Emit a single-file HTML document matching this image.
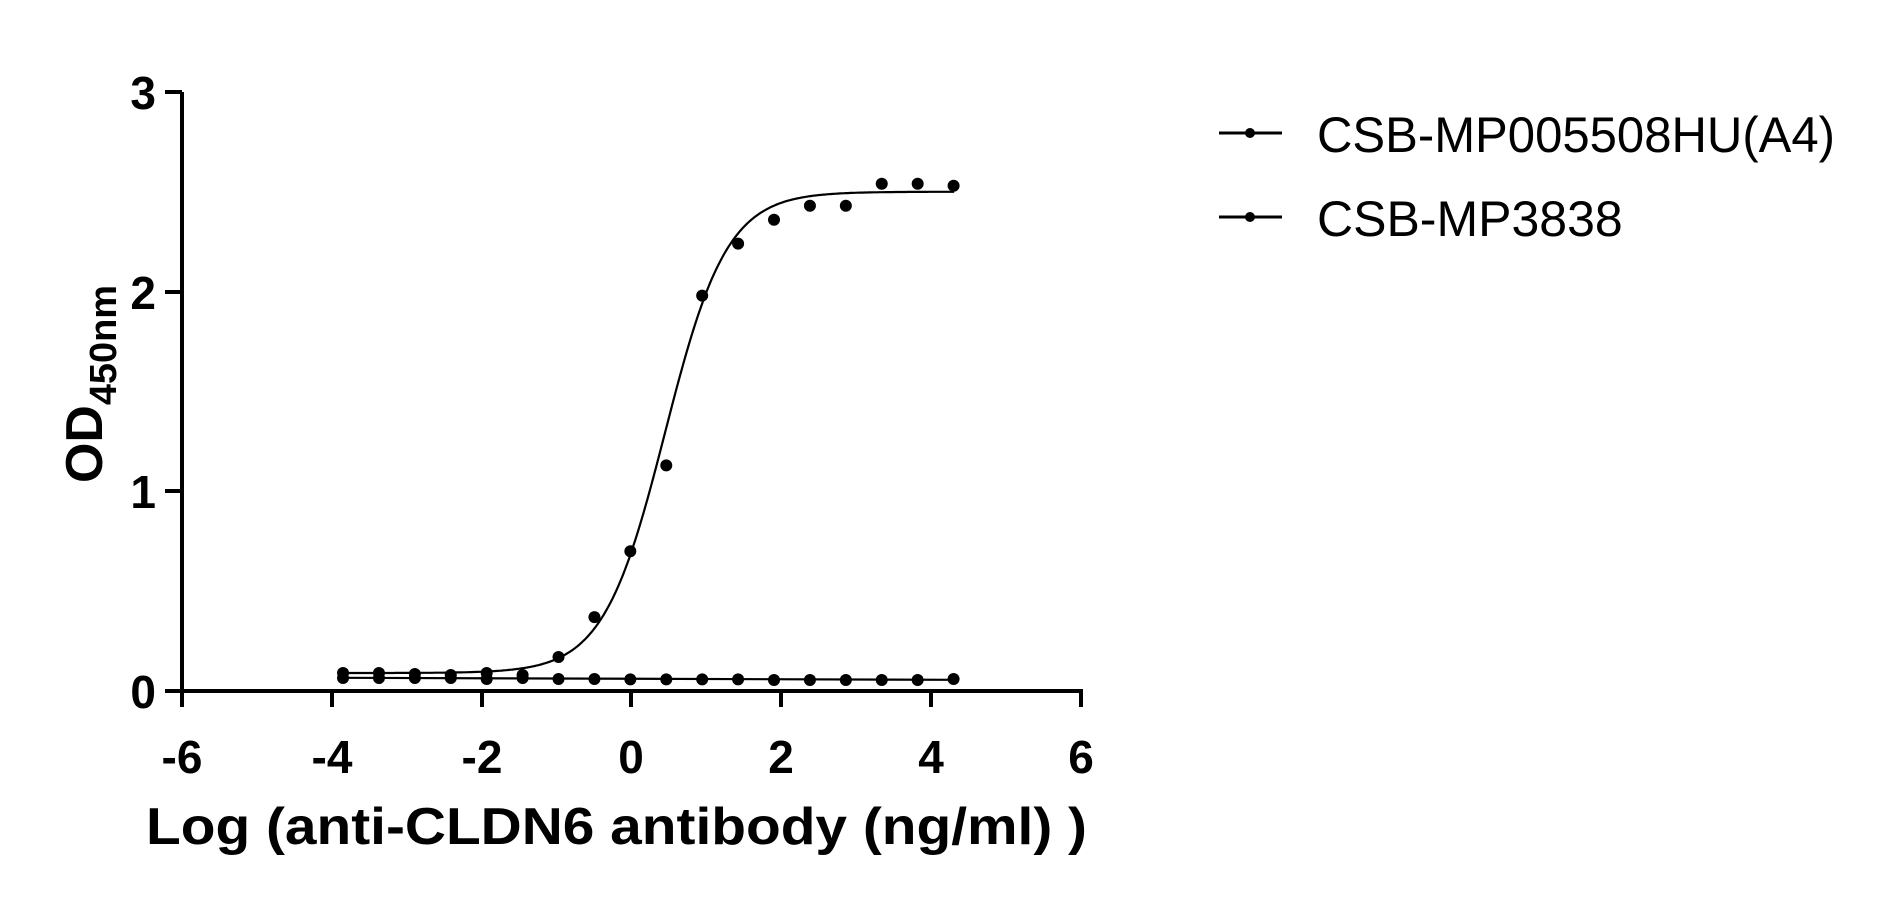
<!DOCTYPE html>
<html><head><meta charset="utf-8"><style>
html,body{margin:0;padding:0;background:#fff;}
svg{display:block;}
text{font-family:"Liberation Sans",sans-serif;fill:#000;}
</style></head><body>
<svg id="s" width="1878" height="899" viewBox="0 0 1878 899" xmlns="http://www.w3.org/2000/svg">
<g stroke="#000" stroke-width="4" fill="none">
<line x1="182" y1="92" x2="182" y2="693"/>
<line x1="180" y1="691" x2="1083" y2="691"/>
<line x1="165" y1="92" x2="182" y2="92"/>
<line x1="165" y1="292" x2="182" y2="292"/>
<line x1="165" y1="491" x2="182" y2="491"/>
<line x1="165" y1="691" x2="182" y2="691"/>
<line x1="182" y1="691" x2="182" y2="707"/>
<line x1="332" y1="691" x2="332" y2="707"/>
<line x1="482" y1="691" x2="482" y2="707"/>
<line x1="631" y1="691" x2="631" y2="707"/>
<line x1="781" y1="691" x2="781" y2="707"/>
<line x1="931" y1="691" x2="931" y2="707"/>
<line x1="1081" y1="691" x2="1081" y2="707"/>
</g>
<g font-weight="bold" font-size="46" text-anchor="end">
<text x="156" y="109">3</text>
<text x="156" y="309">2</text>
<text x="156" y="508">1</text>
<text x="156" y="708">0</text>
</g>
<g font-weight="bold" font-size="46" text-anchor="middle">
<text x="182" y="773">-6</text>
<text x="332" y="773">-4</text>
<text x="482" y="773">-2</text>
<text x="631" y="773">0</text>
<text x="781" y="773">2</text>
<text x="931" y="773">4</text>
<text x="1081" y="773">6</text>
</g>
<text x="146" y="844" font-weight="bold" font-size="52" textLength="941" lengthAdjust="spacingAndGlyphs">Log  (anti-CLDN6 antibody  (ng/ml)  )</text>
<text transform="translate(102,384) rotate(-90)" text-anchor="middle" font-weight="bold" font-size="52" textLength="198" lengthAdjust="spacingAndGlyphs">OD<tspan font-size="38" dy="14">450nm</tspan></text>
<g stroke="#000" stroke-width="3"><line x1="1219" y1="133" x2="1282" y2="133"/><line x1="1219" y1="217" x2="1282" y2="217"/></g>
<circle cx="1250" cy="133" r="5"/><circle cx="1250" cy="217" r="5"/>
<text x="1317" y="152" font-size="50" textLength="518" lengthAdjust="spacingAndGlyphs">CSB-MP005508HU(A4)</text>
<text x="1317" y="236" font-size="50">CSB-MP3838</text>
<g id="d"></g>
</svg>
<script>
var X=function(v){return 182+(v+6)*74.9},Y=function(v){return 691-v*199.7};
var s1=[0.09,0.09,0.085,0.08,0.09,0.08,0.17,0.37,0.7,1.13,1.98,2.24,2.36,2.43,2.43,2.54,2.54,2.53];
var s2=[0.065,0.065,0.065,0.065,0.06,0.065,0.06,0.06,0.058,0.058,0.058,0.058,0.055,0.055,0.055,0.055,0.055,0.06];
var g=document.getElementById('d'),h='';
function f(x){return 0.09+2.41/(1+Math.pow(10,(0.45-x)*1.05));}
var p='';for(var x=-3.85;x<=4.31;x+=0.02){p+=(p?'L':'M')+X(x).toFixed(1)+' '+Y(f(x)).toFixed(1);}
h+='<path d="'+p+'" stroke="#000" stroke-width="2.2" fill="none"/>';
h+='<path d="M'+X(-3.85)+' '+Y(0.066)+'L'+X(4.3)+' '+Y(0.056)+'" stroke="#000" stroke-width="2.2" fill="none"/>';
for(var i=0;i<18;i++){var xv=-3.85+i*0.4795;
h+='<circle cx="'+X(xv)+'" cy="'+Y(s1[i])+'" r="6"/>';
h+='<circle cx="'+X(xv)+'" cy="'+Y(s2[i])+'" r="6"/>';}
g.innerHTML=h;
</script>
</body></html>
